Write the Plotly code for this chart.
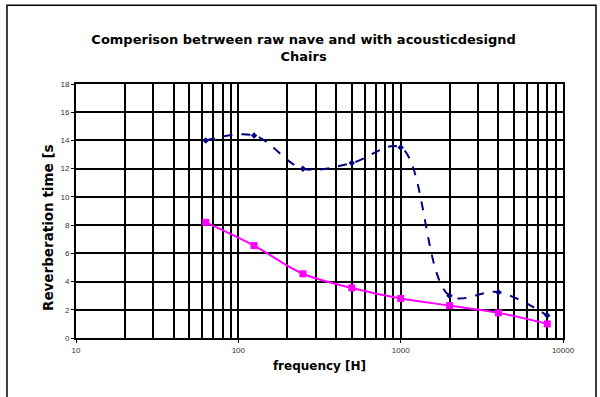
import plotly.graph_objects as go

freq = [63, 125, 250, 500, 1000, 2000, 4000, 8000]
raw_nave = [14.0, 14.35, 12.0, 12.4, 13.5, 3.0, 3.25, 1.6]
with_chairs = [8.2, 6.55, 4.55, 3.55, 2.8, 2.3, 1.78, 1.0]

x_ticks = [10, 100, 1000, 10000]
x_minor = [m * d for d in (10, 100, 1000) for m in range(2, 10)]
y_ticks = list(range(0, 19, 2))

FONT = "DejaVu Sans, Arial, Liberation Sans"

fig = go.Figure()
fig.add_trace(go.Scatter(
    x=freq, y=raw_nave, mode="lines+markers", line_shape="spline",
    line=dict(color="#000080", width=2, dash="dash"),
    marker=dict(symbol="diamond", size=5, color="#000080"),
    name="raw nave", showlegend=False))
fig.add_trace(go.Scatter(
    x=freq, y=with_chairs, mode="lines+markers", line_shape="spline",
    line=dict(color="#FF00FF", width=2),
    marker=dict(symbol="square", size=7, color="#FF00FF"),
    name="with chairs", showlegend=False))

grid = dict(showgrid=True, gridcolor="black", gridwidth=2)
fig.update_xaxes(
    type="log", range=[1, 4], tickvals=x_ticks, ticktext=[str(v) for v in x_ticks],
    showline=True, linecolor="black", linewidth=2, mirror=True,
    ticks="outside", ticklen=3, tickcolor="black",
    tickfont=dict(family="Arial, Liberation Sans", size=8, color="#333"),
    minor=dict(tickvals=x_minor, showgrid=True, gridcolor="black", gridwidth=2),
    title=dict(text="<b>frequency [H]</b>", font=dict(family=FONT, size=12, color="black"), standoff=8),
    zeroline=False, **grid)
fig.update_yaxes(
    range=[0, 18], tickvals=y_ticks,
    showline=True, linecolor="black", linewidth=2, mirror=True,
    ticks="outside", ticklen=3, tickcolor="black",
    tickfont=dict(family="Arial, Liberation Sans", size=8, color="#333"),
    zeroline=False, **grid)

fig.add_annotation(text="<b>Reverberation time [s</b>", textangle=-90,
                   xref="paper", yref="paper", x=-0.0575, y=0.437,
                   xanchor="center", yanchor="middle", showarrow=False,
                   font=dict(family=FONT, size=13.5, color="black"))

fig.add_shape(type="rect", xref="paper", yref="paper",
              x0=-0.1417, x1=1.0678, y0=-0.25, y1=1.31,
              line=dict(color="black", width=1.5), fillcolor="rgba(0,0,0,0)", layer="above")

fig.update_layout(
    width=600, height=397,
    margin=dict(l=76, r=37, t=84, b=59),
    paper_bgcolor="white", plot_bgcolor="white",
    title=dict(text="<b>Comperison betrween raw nave and with acousticdesignd<br>Chairs</b>",
               x=0.506, xanchor="center", y=0.888, yanchor="middle",
               font=dict(family=FONT, size=13, color="black")),
)

fig.write_html("out.html")
